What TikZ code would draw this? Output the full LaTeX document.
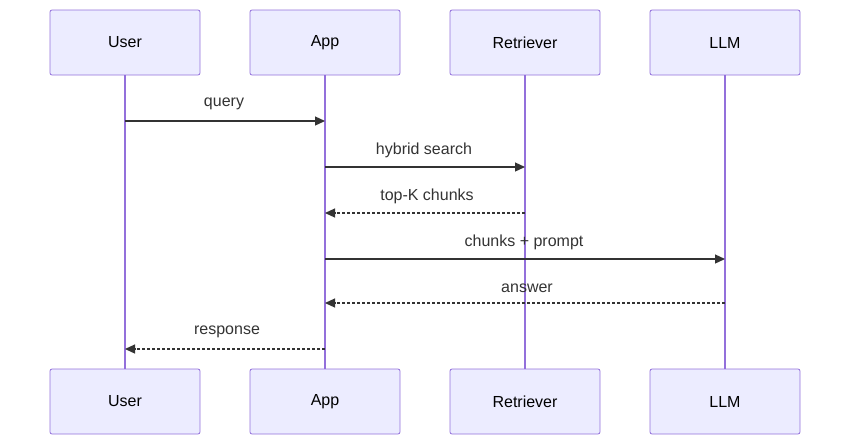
\documentclass[tikz,border=0pt]{standalone}
\usepackage{fontspec}
\setmainfont{Liberation Sans}
\usetikzlibrary{arrows.meta}
\definecolor{actfill}{HTML}{ECECFF}
\definecolor{actline}{HTML}{9370DB}
\definecolor{msg}{HTML}{333333}
\begin{document}
\begin{tikzpicture}[x=1pt,y=-1pt,
  actor/.style={draw=actline,fill=actfill,rounded corners=2pt,minimum width=150pt,minimum height=65pt,inner sep=0pt,font=\fontsize{16pt}{19pt}\selectfont,text=black,line width=0.8pt},
  life/.style={draw=actline,line width=1.4pt},
  sync/.style={draw=msg,line width=1.2pt,-{Triangle[length=10pt,width=9pt]}},
  reply/.style={sync,dashed,dash pattern=on 3pt off 2pt},
  lbl/.style={font=\fontsize{16pt}{19pt}\selectfont,text=msg,inner sep=0pt}]
\useasboundingbox (0,0) rectangle (850,445);
\foreach \n/\t/\x in {u/User/125,a/App/325,r/Retriever/525,l/LLM/725}{
  \node[actor] (\n1) at (\x,42.5) {\t};
  \node[actor] (\n2) at (\x,401.5) {\t};
  \draw[life] (\n1.south) -- (\n2.north);
}
\foreach \n/\x in {u/125,a/325,r/525,l/725}{
  \foreach \k/\y in {1/121,2/167,3/213,4/259,5/303,6/349}{
    \coordinate (\n\k) at (\x,\y);
  }
}
\draw[sync] (u1) -- (a1);
\node[lbl] at (224,104) {query};
\draw[sync] (a2) -- (r2);
\node[lbl] at (424,150) {hybrid search};
\draw[reply] (r3) -- (a3);
\node[lbl] at (427,196) {top-K chunks};
\draw[sync] (a4) -- (l4);
\node[lbl] at (524,242) {chunks + prompt};
\draw[reply] (l5) -- (a5);
\node[lbl] at (527,288) {answer};
\draw[reply] (a6) -- (u6);
\node[lbl] at (227,332) {response};
\end{tikzpicture}
\end{document}
